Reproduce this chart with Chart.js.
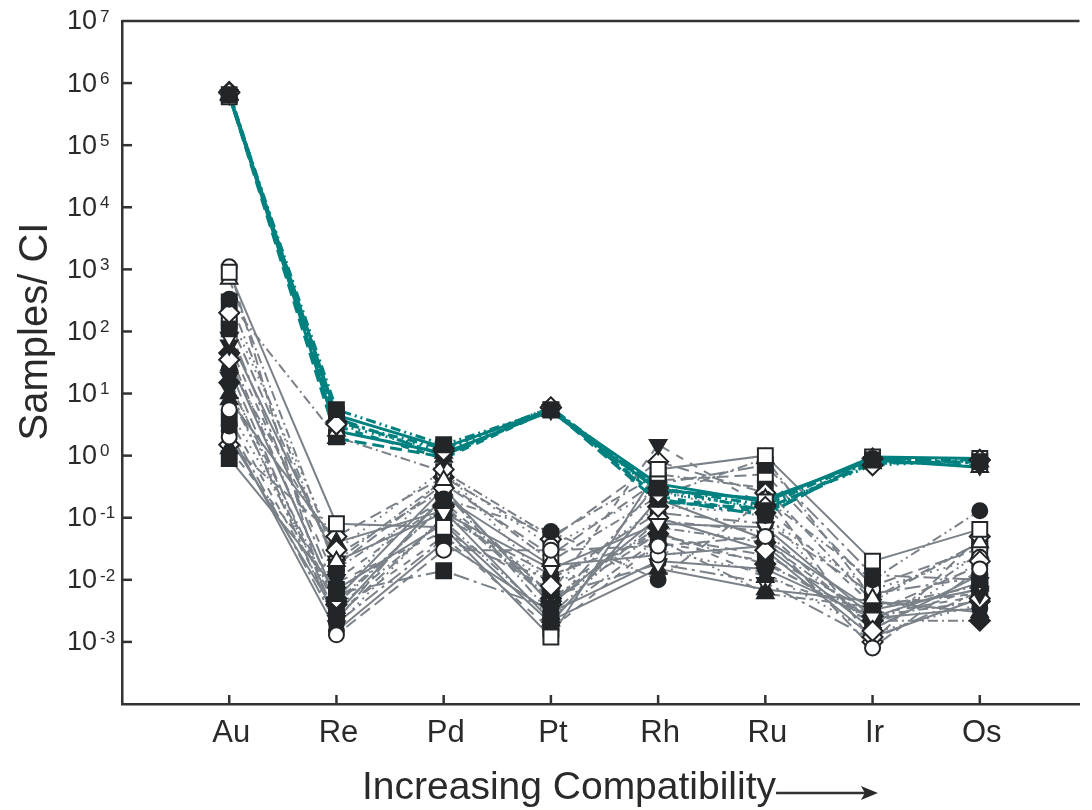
<!DOCTYPE html>
<html>
<head>
<meta charset="utf-8">
<script src="https://cdn.jsdelivr.net/npm/chart.js@4.4.1/dist/chart.umd.min.js"></script>
<style>
  html, body { margin: 0; padding: 0; background: #fff; }
  canvas { display: block; }
</style>
</head>
<body>
<canvas id="pgeChart" width="1092" height="810"></canvas>
<script>
// Categories (x axis)
const categories = ['Au', 'Re', 'Pd', 'Pt', 'Rh', 'Ru', 'Ir', 'Os'];
// y tick exponents (10^n)
const yTickExponents = [-3, -2, -1, 0, 1, 2, 3, 4, 5, 6, 7];

// Teal group: values per category (Au, Re, Pd, Pt, Rh, Ru, Ir, Os)
const tealSeries = [
    [650000, 5.5, 1.5, 5.5, 0.30, 0.13, 0.85, 0.80],
    [700000, 3.2, 1.2, 6.0, 0.25, 0.15, 0.70, 0.85],
    [680000, 4.0, 1.0, 5.8, 0.20, 0.11, 0.90, 0.75],
    [600000, 4.5, 1.35, 5.4, 0.35, 0.18, 0.95, 0.90],
    [650000, 3.0, 0.9, 5.5, 0.22, 0.12, 0.80, 0.70],
    [660000, 2.5, 1.1, 5.2, 0.28, 0.20, 0.85, 0.65],
    [640000, 1.9, 0.95, 5.6, 0.18, 0.14, 0.75, 0.80],
    [720000, 3.5, 1.3, 5.9, 0.30, 0.16, 0.90, 0.85]
];
const tealMarkers = ['sqF', 'diaO', 'cirF', 'sqO', 'triDF', 'triO', 'triF', 'diaO'];

// Grey group: values per category (Au, Re, Pd, Pt, Rh, Ru, Ir, Os)
const greySeries = [
    [900, 0.08, 0.07, 0.0012, 0.6, 1.0, 0.02, 0.065],
    [1100, 0.0013, 0.03, 0.03, 0.035, 0.05, 0.0008, 0.015],
    [700, 0.02, 0.4, 0.02, 0.22, 0.9, 0.005, 0.04],
    [330, 0.015, 0.2, 0.06, 0.01, 0.2, 0.01, 0.13],
    [200, 0.03, 0.6, 0.008, 0.15, 0.12, 0.0015, 0.02],
    [110, 0.006, 0.014, 0.0035, 0.35, 0.7, 0.012, 0.01],
    [80, 0.02, 0.12, 0.015, 0.08, 0.07, 0.0025, 0.009],
    [60, 0.01, 0.18, 0.006, 1.5, 0.15, 0.004, 0.006],
    [35, 0.005, 0.3, 0.004, 0.1, 0.03, 0.0012, 0.005],
    [25, 0.0025, 0.1, 0.012, 0.05, 0.025, 0.003, 0.017],
    [15, 0.004, 0.16, 0.005, 0.07, 0.04, 0.0022, 0.0022],
    [10, 0.0035, 0.09, 0.0025, 0.045, 0.006, 0.0036, 0.008],
    [5.5, 0.005, 0.5, 0.035, 0.28, 0.1, 0.007, 0.023],
    [3, 0.002, 0.045, 0.01, 0.12, 0.08, 0.006, 0.011],
    [2, 0.0028, 0.22, 0.017, 0.025, 0.035, 0.0016, 0.012],
    [1.3, 0.009, 0.06, 0.007, 0.06, 0.011, 0.0028, 0.0055],
    [0.9, 0.007, 0.08, 0.002, 0.2, 0.045, 0.0033, 0.007],
    [150, 0.017, 0.35, 0.025, 0.4, 0.5, 0.008, 0.032],
    [45, 0.0045, 0.15, 0.0045, 0.055, 0.018, 0.0026, 0.0045],
    [28, 0.025, 0.28, 0.0028, 0.09, 0.06, 0.0018, 0.027],
    [18, 0.0018, 0.11, 0.009, 0.03, 0.013, 0.0014, 0.004],
    [12, 0.0022, 0.25, 0.0055, 0.018, 0.009, 0.0011, 0.0065],
    [8, 0.04, 0.13, 0.0022, 0.015, 0.007, 0.0045, 0.003],
    [4, 0.003, 0.05, 0.0016, 0.04, 0.02, 0.002, 0.0075],
    [2.5, 0.0015, 0.04, 0.003, 0.02, 0.015, 0.0024, 0.0035],
    [1.5, 0.05, 0.45, 0.045, 0.8, 0.25, 0.001, 0.05],
    [300, 2.0, 0.55, 0.05, 0.5, 0.3, 0.0045, 0.04]
];
const greyMarkers = ['sqO', 'cirO', 'triO', 'cirF', 'diaO', 'sqF', 'triDO', 'triDF', 'diaO',
    'cirF', 'diaF', 'triF', 'cirO', 'cirF', 'cirO', 'triF', 'sqF', 'sqO', 'diaF', 'triO',
    'triDF', 'triDO', 'triF', 'sqF', 'cirF', 'diaO', 'sqF'];

const dashPatterns = [[], [12, 6], [10, 4, 2, 4], [10, 4, 2, 4, 2, 4], [2, 5], [16, 5, 3, 5], [], [8, 8]];

const TEAL = '#00817f';
const GREY = '#7a8188';
const INK = '#222629';
const FONT = '"Liberation Sans", Arial, sans-serif';

function toPoints(row) {
    return row.map((v, i) => ({ x: i, y: v }));
}

function markerStyle(code) {
    const filled = code.endsWith('F');
    const shape = code.slice(0, -1);
    let pointStyle = 'circle', rotation = 0, radius = 7.5;
    if (shape === 'sq') { pointStyle = 'rect'; radius = 10.5; }
    if (shape === 'dia') { pointStyle = 'rectRot'; radius = 10; }
    if (shape === 'tri') { pointStyle = 'triangle'; radius = 9.5; }
    if (shape === 'triD') { pointStyle = 'triangle'; rotation = 180; radius = 9.5; }
    return {
        pointStyle: pointStyle,
        pointRotation: rotation,
        pointRadius: radius,
        pointBackgroundColor: filled ? INK : '#ffffff',
        pointBorderColor: INK,
        pointBorderWidth: 2
    };
}

const datasets = [];

// Lines first (drawn behind the markers)
greySeries.forEach((row, i) => {
    datasets.push({
        data: toPoints(row),
        borderColor: GREY,
        borderWidth: 2,
        borderDash: dashPatterns[i % dashPatterns.length],
        pointRadius: 0,
        order: 4
    });
});
tealSeries.forEach((row, i) => {
    datasets.push({
        data: toPoints(row),
        borderColor: TEAL,
        borderWidth: 3,
        borderDash: dashPatterns[(i + 3) % dashPatterns.length],
        pointRadius: 0,
        order: 3
    });
});

// Markers on top
greySeries.forEach((row, i) => {
    datasets.push(Object.assign({ data: toPoints(row), showLine: false, order: 2 }, markerStyle(greyMarkers[i])));
});
tealSeries.forEach((row, i) => {
    datasets.push(Object.assign({ data: toPoints(row), showLine: false, order: 1 }, markerStyle(tealMarkers[i])));
});

// Axis decorations: tick marks, superscript labels, titles, arrow
const axisDecor = {
    id: 'axisDecor',
    afterDraw(chart) {
        const ctx = chart.ctx;
        const area = chart.chartArea;
        const xs = chart.scales.x;
        const ys = chart.scales.y;
        ctx.save();
        ctx.strokeStyle = '#333';
        ctx.fillStyle = '#2a2a2a';
        ctx.lineWidth = 2.5;

        // top frame line
        ctx.beginPath();
        ctx.moveTo(area.left, area.top);
        ctx.lineTo(area.right, area.top);
        ctx.stroke();

        // y ticks + labels
        yTickExponents.forEach(e => {
            const y = ys.getPixelForValue(Math.pow(10, e));
            if (e < 7) {
                ctx.beginPath();
                ctx.moveTo(area.left, y);
                ctx.lineTo(area.left + 10, y);
                ctx.stroke();
            }
            ctx.font = '27px ' + FONT;
            ctx.textAlign = 'right';
            ctx.textBaseline = 'middle';
            ctx.fillText('10', area.left - 25, y + 1);
            ctx.font = '17px ' + FONT;
            ctx.textAlign = 'left';
            ctx.fillText(String(e), area.left - 22, y - 4);
        });

        // x ticks + labels
        categories.forEach((c, i) => {
            const x = xs.getPixelForValue(i);
            ctx.beginPath();
            ctx.moveTo(x, area.bottom);
            ctx.lineTo(x, area.bottom - 9);
            ctx.stroke();
            ctx.font = '31px ' + FONT;
            ctx.textAlign = 'center';
            ctx.textBaseline = 'middle';
            ctx.fillText(c, x + 2, area.bottom + 29);
        });

        // y title
        ctx.save();
        ctx.translate(36, (area.top + area.bottom) / 2 - 31);
        ctx.rotate(-Math.PI / 2);
        ctx.font = '40px ' + FONT;
        ctx.textAlign = 'center';
        ctx.textBaseline = 'middle';
        ctx.fillText('Samples/ CI', 0, 0);
        ctx.restore();

        // x title with arrow
        ctx.font = '39px ' + FONT;
        ctx.textAlign = 'left';
        ctx.textBaseline = 'middle';
        const tx = 362, ty = area.bottom + 84;
        ctx.fillText('Increasing Compatibility', tx, ty);
        const tw = ctx.measureText('Increasing Compatibility').width;
        const ax0 = tx + tw, ax1 = xs.getPixelForValue(6.05);
        ctx.lineWidth = 2.5;
        ctx.beginPath();
        ctx.moveTo(ax0, ty + 5);
        ctx.lineTo(ax1 - 10, ty + 5);
        ctx.stroke();
        ctx.beginPath();
        ctx.moveTo(ax1, ty + 5);
        ctx.lineTo(ax1 - 17, ty - 2);
        ctx.lineTo(ax1 - 13, ty + 5);
        ctx.lineTo(ax1 - 17, ty + 12);
        ctx.closePath();
        ctx.fill();
        ctx.restore();
    }
};

new Chart(document.getElementById('pgeChart'), {
    type: 'line',
    data: { datasets: datasets },
    options: {
        responsive: false,
        animation: false,
        layout: { padding: { left: 122, top: 21, right: 0, bottom: 106 } },
        plugins: {
            legend: { display: false },
            tooltip: { enabled: false }
        },
        scales: {
            x: {
                type: 'linear',
                min: -1,
                max: 7.93,
                grid: { display: false, drawTicks: false },
                border: { display: true, color: '#333', width: 2.5 },
                ticks: { display: false }
            },
            y: {
                type: 'logarithmic',
                min: 1e-4,
                max: 1e7,
                grid: { display: false, drawTicks: false },
                border: { display: true, color: '#333', width: 2.5 },
                ticks: { display: false }
            }
        }
    },
    plugins: [axisDecor]
});
</script>
</body>
</html>
